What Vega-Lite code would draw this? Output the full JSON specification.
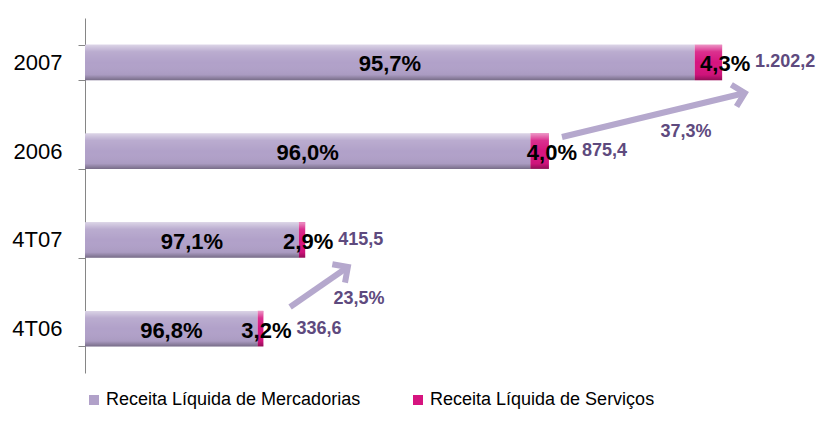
{
  "$schema": "https://vega.github.io/schema/vega-lite/v6.json",
  "width": 734,
  "height": 355,
  "autosize": {"type": "none"},
  "padding": {"left": 85, "top": 18, "right": 0, "bottom": 51},
  "background": "white",
  "config": {"view": {"stroke": null}, "font": "Liberation Sans"},
  "title": {"text": "(R$ milhões)", "anchor": "start", "dx": 151, "dy": 10, "offset": 4, "baseline": "bottom", "fontSize": 13, "fontWeight": "normal", "color": "#7a6a9a", "font": "Liberation Sans"},
  "datasets": {
    "bars": [
      {"cat": "2007", "merc": 1150.5, "total": 1202.2, "pm": "95,7%", "ps": "4,3%", "tl": "1.202,2"},
      {"cat": "2006", "merc": 840.4, "total": 875.4, "pm": "96,0%", "ps": "4,0%", "tl": "875,4"},
      {"cat": "4T07", "merc": 403.5, "total": 415.5, "pm": "97,1%", "ps": "2,9%", "tl": "415,5"},
      {"cat": "4T06", "merc": 325.8, "total": 336.6, "pm": "96,8%", "ps": "3,2%", "tl": "336,6"}
    ],
    "arrows": [
      {"id": "a", "x": 900, "y": 2.659, "x2": 1245, "y2": 3.155, "label": "37,3%", "lx": 1134, "ly": 2.715},
      {"id": "b", "x": 387, "y": 0.744, "x2": 496, "y2": 1.194, "label": "23,5%", "lx": 517, "ly": 0.834}
    ]
  },
  "layer": [
    {
      "data": {"name": "bars"},
      "encoding": {
        "y": {"field": "cat", "type": "nominal", "sort": ["2007", "2006", "4T07", "4T06"],
              "scale": {"paddingInner": 0.6, "paddingOuter": 0.3},
              "axis": {"title": null, "tickBand": "extent", "domainColor": "#868686", "tickColor": "#868686", "tickSize": 7, "labelFontSize": 22, "labelFont": "Liberation Sans", "labelColor": "#000000", "labelPadding": 16}}
      },
      "layer": [
        {
          "mark": {"type": "bar"},
          "encoding": {
            "x": {"field": "merc", "type": "quantitative", "scale": {"domain": [0, 1385], "nice": false, "zero": true}, "axis": null},
            "color": {"datum": "Receita Líquida de Mercadorias", "type": "nominal",
              "scale": {"domain": ["Receita Líquida de Mercadorias", "Receita Líquida de Serviços"], "range": ["#b1a1c9", "#d6147f"]},
              "legend": {"orient": "bottom", "direction": "horizontal", "title": null, "symbolType": "square", "symbolSize": 100, "symbolStrokeWidth": 0, "labelFontSize": 18, "labelFont": "Liberation Sans", "labelColor": "#000000", "labelLimit": 500, "columnPadding": 48, "offset": 18, "labelOffset": 3}}
          }
        },
        {
          "mark": {"type": "bar"},
          "encoding": {
            "x": {"field": "merc", "type": "quantitative"},
            "x2": {"field": "total"},
            "color": {"datum": "Receita Líquida de Serviços", "type": "nominal"}
          }
        },
        {
          "mark": {"type": "bar", "fill": {"gradient": "linear", "x1": 0, "y1": 0, "x2": 0, "y2": 1, "stops": [{"offset": 0, "color": "rgba(255,255,255,0.55)"}, {"offset": 0.2, "color": "rgba(255,255,255,0.12)"}, {"offset": 0.5, "color": "rgba(255,255,255,0)"}, {"offset": 0.85, "color": "rgba(0,0,0,0.04)"}, {"offset": 1, "color": "rgba(0,0,0,0.32)"}]}},
          "encoding": {
            "x": {"field": "total", "type": "quantitative"}
          }
        },
        {
          "transform": [{"calculate": "datum.merc / 2", "as": "mid"}],
          "mark": {"type": "text", "fontSize": 22, "fontWeight": "bold", "color": "#000000", "align": "center", "baseline": "middle", "dy": 2},
          "encoding": {
            "x": {"field": "mid", "type": "quantitative"},
            "text": {"field": "pm"}
          }
        },
        {
          "mark": {"type": "text", "fontSize": 22, "fontWeight": "bold", "color": "#000000", "align": "center", "baseline": "middle", "dx": 3, "dy": 2},
          "encoding": {
            "x": {"field": "total", "type": "quantitative"},
            "text": {"field": "ps"}
          }
        },
        {
          "mark": {"type": "text", "fontSize": 18, "fontWeight": "bold", "color": "#5e4a7e", "align": "left", "baseline": "middle", "dx": 33},
          "encoding": {
            "x": {"field": "total", "type": "quantitative"},
            "text": {"field": "tl"}
          }
        }
      ]
    },
    {
      "data": {"name": "arrows"},
      "layer": [
        {
          "mark": {"type": "rule", "color": "#b5a8cd", "strokeWidth": 6},
          "encoding": {
            "x": {"field": "x", "type": "quantitative"},
            "x2": {"field": "x2"},
            "y": {"field": "y", "type": "quantitative", "scale": {"domain": [0, 4], "nice": false}, "axis": null},
            "y2": {"field": "y2"}
          }
        },
        {
          "transform": [{"filter": "datum.id === 'a'"}],
          "mark": {"type": "point", "shape": "M-1,1L0,0L1,1", "filled": false, "stroke": "#b5a8cd", "strokeWidth": 6, "size": 500, "angle": 76.5, "opacity": 1},
          "encoding": {
            "x": {"field": "x2", "type": "quantitative"},
            "y": {"field": "y2", "type": "quantitative"}
          }
        },
        {
          "transform": [{"filter": "datum.id === 'b'"}],
          "mark": {"type": "point", "shape": "M-1,1L0,0L1,1", "filled": false, "stroke": "#b5a8cd", "strokeWidth": 6, "size": 500, "angle": 55.4, "opacity": 1},
          "encoding": {
            "x": {"field": "x2", "type": "quantitative"},
            "y": {"field": "y2", "type": "quantitative"}
          }
        },
        {
          "mark": {"type": "text", "fontSize": 18, "fontWeight": "bold", "color": "#5e4a7e", "align": "center", "baseline": "middle"},
          "encoding": {
            "x": {"field": "lx", "type": "quantitative"},
            "y": {"field": "ly", "type": "quantitative"},
            "text": {"field": "label"}
          }
        }
      ]
    }
  ],
  "resolve": {"scale": {"y": "independent"}}
}
